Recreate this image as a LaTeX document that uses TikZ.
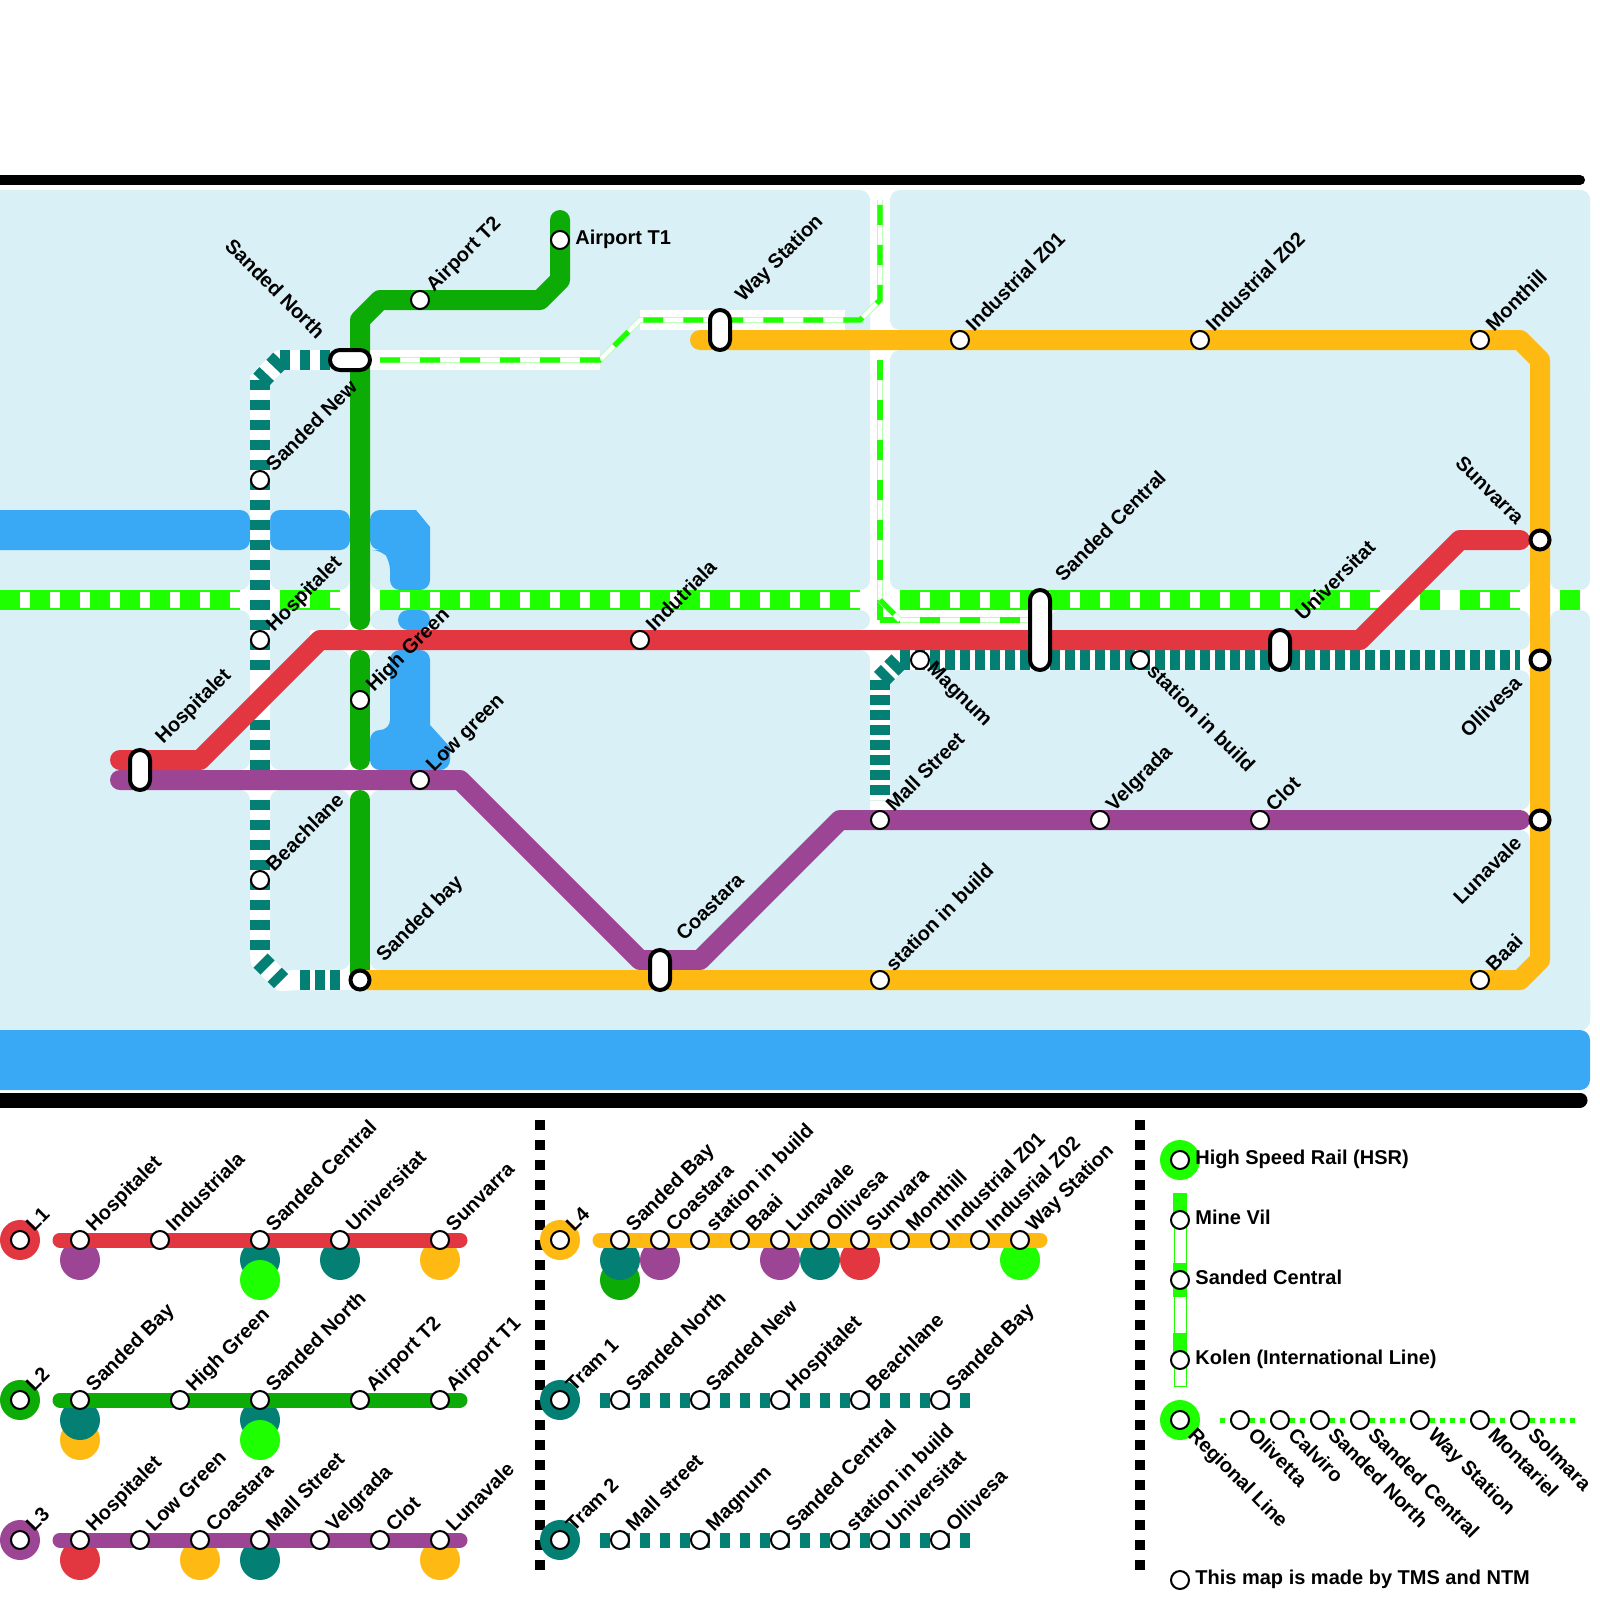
\documentclass[tikz,border=0pt]{standalone}
\usepackage{fontspec}
\setmainfont{Liberation Sans}
\usepackage{xcolor}
\usetikzlibrary{backgrounds}
\definecolor{landblue}{HTML}{D9F0F6}
\definecolor{riverblue}{HTML}{39A9F5}
\definecolor{redline}{HTML}{E23640}
\definecolor{greenline}{HTML}{0CAB05}
\definecolor{purpleline}{HTML}{9D4595}
\definecolor{orangeline}{HTML}{FEB913}
\definecolor{tealline}{HTML}{038073}
\definecolor{hsrgreen}{HTML}{1EFF00}
\definecolor{hsrpale}{HTML}{B8FFB0}

\begin{document}
\begin{tikzpicture}[
  x=0.5pt, y=-0.5pt,
  font=\bfseries\fontsize{10}{12}\selectfont,
  lab/.style={rotate=45, anchor=west, inner sep=0pt, text height=7.2pt, text depth=0pt},
  labdown/.style={rotate=-45, anchor=west, inner sep=0pt, text height=7.2pt, text depth=0pt},
  labend/.style={rotate=45, anchor=east, inner sep=0pt, text height=7.2pt, text depth=0pt},
  stn/.style={circle, draw, fill=white, line width=1pt, minimum size=9pt, inner sep=0pt},
  stnup/.style={stn, label={[lab, xshift=2.7pt, yshift=0pt]60:#1}},
  stndown/.style={stn, label={[labdown, xshift=3pt, yshift=0pt]-40:#1}},
  stnside/.style={stn, label={[anchor=west, inner sep=0pt, label distance=2.5pt, yshift=1.3pt, text height=7.2pt, text depth=0pt]0:#1}},
  stnbig/.style={stn, line width=2pt, minimum size=9.5pt},
  capsule/.style={draw, fill=white, line width=2pt, rounded corners=5pt, minimum width=10pt, minimum height=20pt, inner sep=0pt},
  disc/.style={circle, minimum size=20pt, inner sep=0pt},
  land/.style={fill=landblue, rounded corners=5pt},
  river/.style={fill=riverblue, rounded corners=5pt},
  metro/.style={line width=10pt, line cap=round, line join=round},
  mini/.style={line width=7.5pt, line cap=round},
  casing/.style={draw=white, line width=10pt, line join=round},
  tramline/.style={draw=tealline, line width=10pt, dash pattern=on 5pt off 5pt},
  tramtwo/.style={draw=tealline, line width=10pt, dash pattern=on 5pt off 2.5pt},
  minitram/.style={draw=tealline, line width=7.5pt, dash pattern=on 5pt off 5pt},
  band/.style={draw=hsrgreen, line width=10pt},
  gapband/.style={draw=white, line width=8pt, dash pattern=on 5pt off 10pt},
  regional/.style={draw=hsrgreen, line width=2.6pt, dash pattern=on 10pt off 10pt,
    preaction={draw=hsrpale, line width=3pt, solid}, preaction={draw=white, line width=2pt, solid}},
  bar/.style={line width=5pt, line cap=round},
  divider/.style={line width=5pt, dash pattern=on 5pt off 5pt}
]
\useasboundingbox (0,0) rectangle (1600,1600);

% map stations
\node[stnside=Airport T1] (mapT1) at (560,240) {};
\node[stnup=Airport T2] (mapT2) at (420,300) {};
\node[stnup=Sanded New] (mapNew) at (260,480) {};
\node[stnup=Hospitalet] (mapHospB) at (260,640) {};
\node[stnup=Beachlane] (mapBeach) at (260,880) {};
\node[stnup=High Green] (mapHigh) at (360,700) {};
\node[stnup=Low green] (mapLow) at (420,780) {};
\node[stnup=Indutriala] (mapInd) at (640,640) {};
\node[stnup=Industrial Z01] (mapZ1) at (960,340) {};
\node[stnup=Industrial Z02] (mapZ2) at (1200,340) {};
\node[stnup=Monthill] (mapMont) at (1480,340) {};
\node[stnup=Mall Street] (mapMall) at (880,820) {};
\node[stnup=Velgrada] (mapVel) at (1100,820) {};
\node[stnup=Clot] (mapClot) at (1260,820) {};
\node[stnup=station in build] (mapBuildA) at (880,980) {};
\node[stnup=Baai] (mapBaai) at (1480,980) {};
\node[stn] (mapMag) at (920,660) {};
\node[stn] (mapBuildB) at (1140,660) {};
\node[labdown] (mapMagTx) at (931,664) {Magnum};
\node[labdown] (mapBuildTx) at (1151,667) {station in build};
\node[stnbig] (mapBay) at (360,980) {};
\node[stnbig] (mapSun) at (1540,540) {};
\node[stnbig] (mapOll) at (1540,660) {};
\node[stnbig] (mapLuna) at (1540,820) {};
\node[lab] (mapBayTx) at (379,958) {Sanded bay};
\node[labdown, anchor=east] (mapSunTx) at (1521,521) {Sunvarra};
\node[labend] (mapOllTx) at (1518,679) {Ollivesa};
\node[labend] (mapLunaTx) at (1518,839) {Lunavale};
\node[capsule, minimum width=20pt, minimum height=10pt] (mapNorth) at (350,360) {};
\node[capsule] (mapWay) at (720,330) {};
\node[capsule] (mapHosp) at (140,770) {};
\node[capsule] (mapCoast) at (660,970) {};
\node[capsule] (mapUni) at (1280,650) {};
\node[capsule, minimum height=40pt] (mapCent) at (1040,630) {};
\node[labdown, anchor=east] (mapNorthTx) at (322,335) {Sanded North};
\node[lab] (mapWayTx) at (738,298) {Way Station};
\node[lab] (mapHospTx) at (158,740) {Hospitalet};
\node[lab] (mapCoastTx) at (679,937) {Coastara};
\node[lab] (mapUniTx) at (1298,617) {Universitat};
\node[lab] (mapCentTx) at (1058,578) {Sanded Central};

% legend L1
\node[stnup=L1] (keyL1) at (20,1240) {};
\node[stnup=Hospitalet] (oneHosp) at (80,1240) {};
\node[stnup=Industriala] (oneInd) at (160,1240) {};
\node[stnup=Sanded Central] (oneCent) at (260,1240) {};
\node[stnup=Universitat] (oneUni) at (340,1240) {};
\node[stnup=Sunvarra] (oneSun) at (440,1240) {};
% legend L2
\node[stnup=L2] (keyL2) at (20,1400) {};
\node[stnup=Sanded Bay] (twoBay) at (80,1400) {};
\node[stnup=High Green] (twoHigh) at (180,1400) {};
\node[stnup=Sanded North] (twoNorth) at (260,1400) {};
\node[stnup=Airport T2] (twoT2) at (360,1400) {};
\node[stnup=Airport T1] (twoT1) at (440,1400) {};
% legend L3
\node[stnup=L3] (keyL3) at (20,1540) {};
\node[stnup=Hospitalet] (threeHosp) at (80,1540) {};
\node[stnup=Low Green] (threeLow) at (140,1540) {};
\node[stnup=Coastara] (threeCoast) at (200,1540) {};
\node[stnup=Mall Street] (threeMall) at (260,1540) {};
\node[stnup=Velgrada] (threeVel) at (320,1540) {};
\node[stnup=Clot] (threeClot) at (380,1540) {};
\node[stnup=Lunavale] (threeLuna) at (440,1540) {};
% legend L4
\node[stnup=L4] (keyL4) at (560,1240) {};
\node[stnup=Sanded Bay] (fourBay) at (620,1240) {};
\node[stnup=Coastara] (fourCoast) at (660,1240) {};
\node[stnup=station in build] (fourBuild) at (700,1240) {};
\node[stnup=Baai] (fourBaai) at (740,1240) {};
\node[stnup=Lunavale] (fourLuna) at (780,1240) {};
\node[stnup=Ollivesa] (fourOll) at (820,1240) {};
\node[stnup=Sunvara] (fourSun) at (860,1240) {};
\node[stnup=Monthill] (fourMont) at (900,1240) {};
\node[stnup=Industrial Z01] (fourZ1) at (940,1240) {};
\node[stnup=Indusrial Z02] (fourZ2) at (980,1240) {};
\node[stnup=Way Station] (fourWay) at (1020,1240) {};
% legend trams
\node[stnup=Tram 1] (keyT1) at (560,1400) {};
\node[stnup=Sanded North] (tramNorth) at (620,1400) {};
\node[stnup=Sanded New] (tramNew) at (700,1400) {};
\node[stnup=Hospitalet] (tramHosp) at (780,1400) {};
\node[stnup=Beachlane] (tramBeach) at (860,1400) {};
\node[stnup=Sanded Bay] (tramBay) at (940,1400) {};
\node[stnup=Tram 2] (keyT2) at (560,1540) {};
\node[stnup=Mall street] (tramMall) at (620,1540) {};
\node[stnup=Magnum] (tramMag) at (700,1540) {};
\node[stnup=Sanded Central] (tramCent) at (780,1540) {};
\node[stnup=station in build] (tramBuild) at (840,1540) {};
\node[stnup=Universitat] (tramUni) at (880,1540) {};
\node[stnup=Ollivesa] (tramOll) at (940,1540) {};
% legend rail
\node[stnside=High Speed Rail (HSR)] (keyHsr) at (1180,1160) {};
\node[stnside=Mine Vil] (railMine) at (1180,1220) {};
\node[stnside=Sanded Central] (railCent) at (1180,1280) {};
\node[stnside=Kolen (International Line)] (railKolen) at (1180,1360) {};
\node[stndown=Regional Line] (keyReg) at (1180,1420) {};
\node[stndown=Olivetta] (regOli) at (1240,1420) {};
\node[stndown=Calviro] (regCal) at (1280,1420) {};
\node[stndown=Sanded North] (regNorth) at (1320,1420) {};
\node[stndown=Sanded Central] (regCent) at (1360,1420) {};
\node[stndown=Way Station] (regWay) at (1420,1420) {};
\node[stndown=Montariel] (regMont) at (1480,1420) {};
\node[stndown=Solmara] (regSol) at (1520,1420) {};
\node[stnside=This map is made by TMS and NTM] (keyNote) at (1180,1580) {};

% bends and line ends
\coordinate (redA) at (120,760);
\coordinate (redB) at (200,760);
\coordinate (redC) at (320,640);
\coordinate (redD) at (1360,640);
\coordinate (redE) at (1460,540);
\coordinate (redF) at (1520,540);
\coordinate (greenA) at (560,220);
\coordinate (greenB) at (560,280);
\coordinate (greenC) at (540,300);
\coordinate (greenD) at (380,300);
\coordinate (greenE) at (360,320);
\coordinate (greenF) at (360,620);
\coordinate (greenG) at (360,660);
\coordinate (greenH) at (360,760);
\coordinate (greenI) at (360,800);
\coordinate (purpleA) at (120,780);
\coordinate (purpleB) at (460,780);
\coordinate (purpleC) at (640,960);
\coordinate (purpleD) at (700,960);
\coordinate (purpleE) at (840,820);
\coordinate (purpleF) at (1520,820);
\coordinate (orangeA) at (700,340);
\coordinate (orangeB) at (1520,340);
\coordinate (orangeC) at (1540,360);
\coordinate (orangeD) at (1540,960);
\coordinate (orangeE) at (1520,980);
\coordinate (tramA) at (330,360);
\coordinate (tramB) at (280,360);
\coordinate (tramC) at (260,380);
\coordinate (tramD) at (260,950);
\coordinate (tramE) at (340,980);
\coordinate (tramF) at (300,980);
\coordinate (tramG) at (280.5,359.5);
\coordinate (tramH) at (260.5,380.5);
\coordinate (tramI) at (260.5,960.5);
\coordinate (tramJ) at (281,981);
\coordinate (tramK) at (880,800);
\coordinate (tramL) at (880,680);
\coordinate (tramM) at (900,660);
\coordinate (tramN) at (1520,660);
\coordinate (tramO) at (898.5,661.5);
\coordinate (tramP) at (881,679);
\coordinate (regA) at (380,360);
\coordinate (regB) at (600,360);
\coordinate (regC) at (640,320);
\coordinate (regD) at (860,320);
\coordinate (regE) at (880,300);
\coordinate (regF) at (880,200);
\coordinate (regG) at (880,360);
\coordinate (regH) at (880,620);
\coordinate (regI) at (1030,620);
\coordinate (regJ) at (880,600);
\coordinate (regK) at (900,620);

\begin{scope}[on background layer]
% land
\fill[land] (-20,190) rectangle (870,340);
\fill[land] (-20,190) rectangle (250,590);
\fill[land] (240,300) rectangle (290,375);
\fill[land] (270,300) rectangle (350,590);
\fill[land] (370,300) rectangle (870,590);
\fill[land] (890,190) rectangle (1590,330);
\fill[land] (890,350) rectangle (1530,590);
\fill[land] (1520,190) rectangle (1590,400);
\fill[land] (1550,340) rectangle (1590,590);
\fill[land] (-20,610) rectangle (250,770);
\fill[land] (-20,790) rectangle (250,1030);
\fill[land] (-20,700) rectangle (125,900);
\fill[land] (240,950) rectangle (290,1000);
\fill[land] (270,610) rectangle (350,630);
\fill[land] (270,610) rectangle (310,690);
\fill[land] (270,650) rectangle (350,770);
\fill[land] (270,790) rectangle (350,970);
\fill[land] (370,610) rectangle (870,630);
\fill[land] (370,650) rectangle (870,770);
\fill[land] (450,700) rectangle (870,810);
\fill[land] (370,790) rectangle (870,970);
\fill[land] (370,830) rectangle (1530,970);
\fill[land] (1050,610) rectangle (1530,650);
\fill[land] (890,670) rectangle (1530,810);
\fill[land] (-20,990) rectangle (1590,1030);
\fill[land] (1550,610) rectangle (1590,1030);
\fill[land] (1520,900) rectangle (1590,1030);
% river
\fill[river] (-20,510) rectangle (250,550);
\fill[river] (270,510) rectangle (350,550);
\fill[riverblue] [rounded corners=5pt] (370,530) -- (370,510) [sharp corners] -- (416,510) -- (430,527) [rounded corners=5pt] -- (430,590) -- (390,590) -- (390,560) -- (382,550) -- (370,550) -- cycle;
\fill[river] (398,610) -- (430,610) -- (430,630) -- (398,630) -- cycle;
\fill[riverblue] [rounded corners=5pt] (390,680) -- (390,650) -- (430,650) [sharp corners] -- (430,725) -- (450,747) [rounded corners=5pt] -- (450,770) -- (370,770) -- (370,730) -- (390,730) -- cycle;
\fill[river] (-20,1030) rectangle (1590,1090);
% rules
\draw[bar] (-10,180) -- (1580,180);
\draw[bar, line width=7.5pt] (-10,1100) -- (1580,1100);
\draw[divider] (540,1120) -- (540,1570);
\draw[divider] (1140,1120) -- (1140,1570);
% hsr band
\draw[band] (0,600) -- (240,600);
\draw[gapband] (20,600) -- (240,600);
\draw[band] (280,600) -- (340,600);
\draw[gapband] (300,600) -- (340,600);
\draw[band] (380,600) -- (860,600);
\draw[gapband] (400,600) -- (860,600);
\draw[band] (900,600) -- (1380,600);
\draw[gapband] (920,600) -- (1380,600);
\draw[band] (1420,600) -- (1440,600);
\draw[band] (1460,600) -- (1520,600);
\draw[gapband] (1480,600) -- (1520,600);
\draw[band] (1560,600) -- (1580,600);
% regional
\draw[casing] (370,360) -- (regB);
\draw[casing] (regC) -- (845,320);
\draw[regional] (regA) -- (regB) -- (regC) -- (regD) -- (regE) -- (regF);
\draw[regional] (regG) -- (regH);
\draw[regional] (regH) -- (regI);
\draw[regional] (regJ) -- (regK);
% tram lines
\draw[casing] (tramE) -- (tramF) -- (tramJ) -- (tramI) -- (tramD) -- (tramC) -- (tramB) -- (tramA);
\draw[casing] (tramK) -- (tramL) -- (tramM) -- (tramN);
\draw[tramline] (tramA) -- (tramB);
\draw[tramline] (tramG) -- (tramH);
\draw[tramline] (tramC) -- (mapNew.center) -- (mapHospB.center) -- (mapBeach.center) -- (tramD);
\draw[tramline] (tramI) -- (tramJ);
\draw[tramtwo] (tramE) -- (tramF);
\draw[tramtwo] (tramL) -- (tramK);
\draw[tramtwo] (tramO) -- (tramP);
\draw[tramtwo] (tramM) -- (tramN);
\draw[casing] (260,672) -- (260,718);
% metro lines
\draw[metro, purpleline] (purpleA) -- (mapLow.center) -- (purpleB) -- (purpleC) -- (purpleD) -- (purpleE) -- (mapMall.center) -- (mapVel.center) -- (mapClot.center) -- (purpleF);
\draw[metro, redline] (redA) -- (redB) -- (redC) -- (mapInd.center) -- (redD) -- (redE) -- (redF);
\draw[metro, greenline] (greenA) -- (greenB) -- (greenC) -- (mapT2.center) -- (greenD) -- (greenE) -- (greenF);
\draw[metro, greenline] (greenG) -- (mapHigh.center) -- (greenH);
\draw[metro, greenline] (greenI) -- (mapBay.center);
\draw[metro, orangeline] (orangeA) -- (mapZ1.center) -- (mapZ2.center) -- (orangeB) -- (orangeC) -- (orangeD) -- (orangeE) -- (mapBaai.center) -- (mapBuildA.center) -- (mapBay.center);

% legend discs and lines
\node[disc, fill=redline] (keyL1d) at (keyL1) {};
\node[disc, fill=greenline] (keyL2d) at (keyL2) {};
\node[disc, fill=purpleline] (keyL3d) at (keyL3) {};
\node[disc, fill=orangeline] (keyL4d) at (keyL4) {};
\node[disc, fill=tealline] (keyT1d) at (keyT1) {};
\node[disc, fill=tealline] (keyT2d) at (keyT2) {};
\node[disc, fill=hsrgreen] (keyHsrd) at (keyHsr) {};
\node[disc, fill=hsrgreen] (keyRegd) at (keyReg) {};

\node[disc, fill=purpleline] (oneA) at (80,1260) {};
\node[disc, fill=tealline] (oneB) at (260,1260) {};
\node[disc, fill=hsrgreen] (oneC) at (260,1280) {};
\node[disc, fill=tealline] (oneD) at (340,1260) {};
\node[disc, fill=orangeline] (oneE) at (440,1260) {};
\draw[mini, redline] (60,1240) -- (460,1240);

\node[disc, fill=orangeline] (twoA) at (80,1440) {};
\node[disc, fill=tealline] (twoB) at (80,1420) {};
\node[disc, fill=tealline] (twoC) at (260,1420) {};
\node[disc, fill=hsrgreen] (twoD) at (260,1440) {};
\draw[mini, greenline] (60,1400) -- (460,1400);

\node[disc, fill=redline] (threeA) at (80,1560) {};
\node[disc, fill=orangeline] (threeB) at (200,1560) {};
\node[disc, fill=tealline] (threeC) at (260,1560) {};
\node[disc, fill=orangeline] (threeD) at (440,1560) {};
\draw[mini, purpleline] (60,1540) -- (460,1540);

\node[disc, fill=greenline] (fourA) at (620,1280) {};
\node[disc, fill=purpleline] (fourB) at (660,1260) {};
\node[disc, fill=tealline] (fourC) at (620,1260) {};
\node[disc, fill=purpleline] (fourD) at (780,1260) {};
\node[disc, fill=redline] (fourE) at (860,1260) {};
\node[disc, fill=tealline] (fourF) at (820,1260) {};
\node[disc, fill=hsrgreen] (fourG) at (1020,1260) {};
\draw[mini, orangeline] (600,1240) -- (1040,1240);

\draw[minitram] (600,1400) -- (970,1400);
\draw[minitram] (600,1540) -- (970,1540);

% legend rail strip
\draw[fill=white, draw=hsrgreen, line width=0.5pt] (1174,1193) rectangle (1186,1386);
\fill[hsrgreen] (1173,1193) rectangle (1187,1225);
\fill[hsrgreen] (1173,1263) rectangle (1187,1297);
\fill[hsrgreen] (1173,1333) rectangle (1187,1360);
\draw[hsrgreen, line width=2.5pt, dash pattern=on 2.5pt off 2.5pt] (1220,1420) -- (1575,1420);
\end{scope}
\end{tikzpicture}
\end{document}
